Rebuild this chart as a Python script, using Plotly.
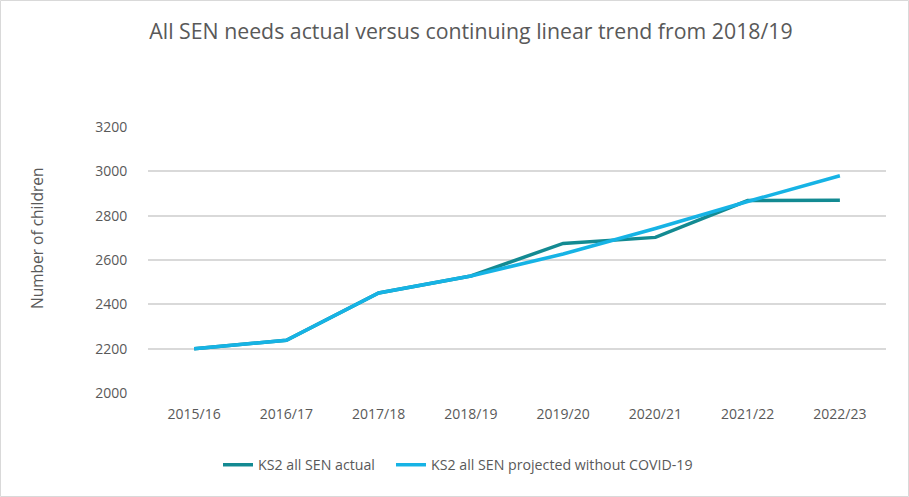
import plotly.graph_objects as go

years = ["2015/16", "2016/17", "2017/18", "2018/19", "2019/20", "2020/21", "2021/22", "2022/23"]
actual = [2200, 2238, 2451, 2528, 2675, 2702, 2868, 2870]
projected = [2200, 2238, 2451, 2528, 2627, 2742, 2864, 2980]
y_ticks = [2000, 2200, 2400, 2600, 2800, 3000, 3200]

FONT = "Open Sans"
GREY = "#595959"

W, H = 909, 497
L, R, T, B = 148, 23, 127, 104
pw, ph = W - L - R, H - T - B

fig = go.Figure()
fig.add_trace(go.Scatter(x=years, y=actual, mode="lines", name="KS2 all SEN actual\u00a0\u00a0\u00a0",
                         line=dict(color="#138A92", width=3.5)))
fig.add_trace(go.Scatter(x=years, y=projected, mode="lines", name="KS2 all SEN projected without COVID-19",
                         line=dict(color="#16B3E5", width=3.5)))

fig.update_layout(
    width=W, height=H,
    margin=dict(l=L, r=R, t=T, b=B, autoexpand=False),
    paper_bgcolor="white", plot_bgcolor="white",
    font=dict(family=FONT, color=GREY, size=12),
    title=dict(text="All SEN needs actual versus continuing linear trend from 2018/19",
               x=471 / W, xanchor="center", y=1 - 32 / H, yanchor="middle",
               font=dict(size=21.3, color=GREY, family=FONT)),
    showlegend=True,
    legend=dict(orientation="h", x=(458 - L) / pw, xanchor="center",
                y=(T + ph - 465) / ph, yanchor="middle",
                font=dict(size=14.2, color=GREY), itemwidth=30, traceorder="normal"),
    xaxis=dict(type="category", range=[-0.5, 7.5], showgrid=False, showline=False, zeroline=False,
               ticks="outside", ticklen=8, tickcolor="rgba(0,0,0,0)",
               tickfont=dict(size=14, color=GREY)),
    yaxis=dict(range=[2000, 3200], tickvals=y_ticks, showgrid=True, gridcolor="#D9D9D9",
               gridwidth=1.5, zeroline=False, showline=False,
               ticks="outside", ticklen=17, tickcolor="rgba(0,0,0,0)",
               tickfont=dict(size=14, color=GREY)),
    annotations=[dict(text="Number of children", textangle=-90, showarrow=False,
                      xref="paper", yref="paper",
                      x=(37 - L) / pw, y=(T + ph - 238) / ph,
                      xanchor="center", yanchor="middle",
                      font=dict(size=15.5, color=GREY, family=FONT))],
    shapes=[dict(type="rect", xref="paper", yref="paper",
                 x0=(0.5 - L) / pw, x1=(W - 0.5 - L) / pw,
                 y0=(T + ph - (H - 0.5)) / ph, y1=(T + ph - 0.5) / ph,
                 line=dict(color="#D9D9D9", width=1), layer="below")],
)

fig.write_html("out.html")
